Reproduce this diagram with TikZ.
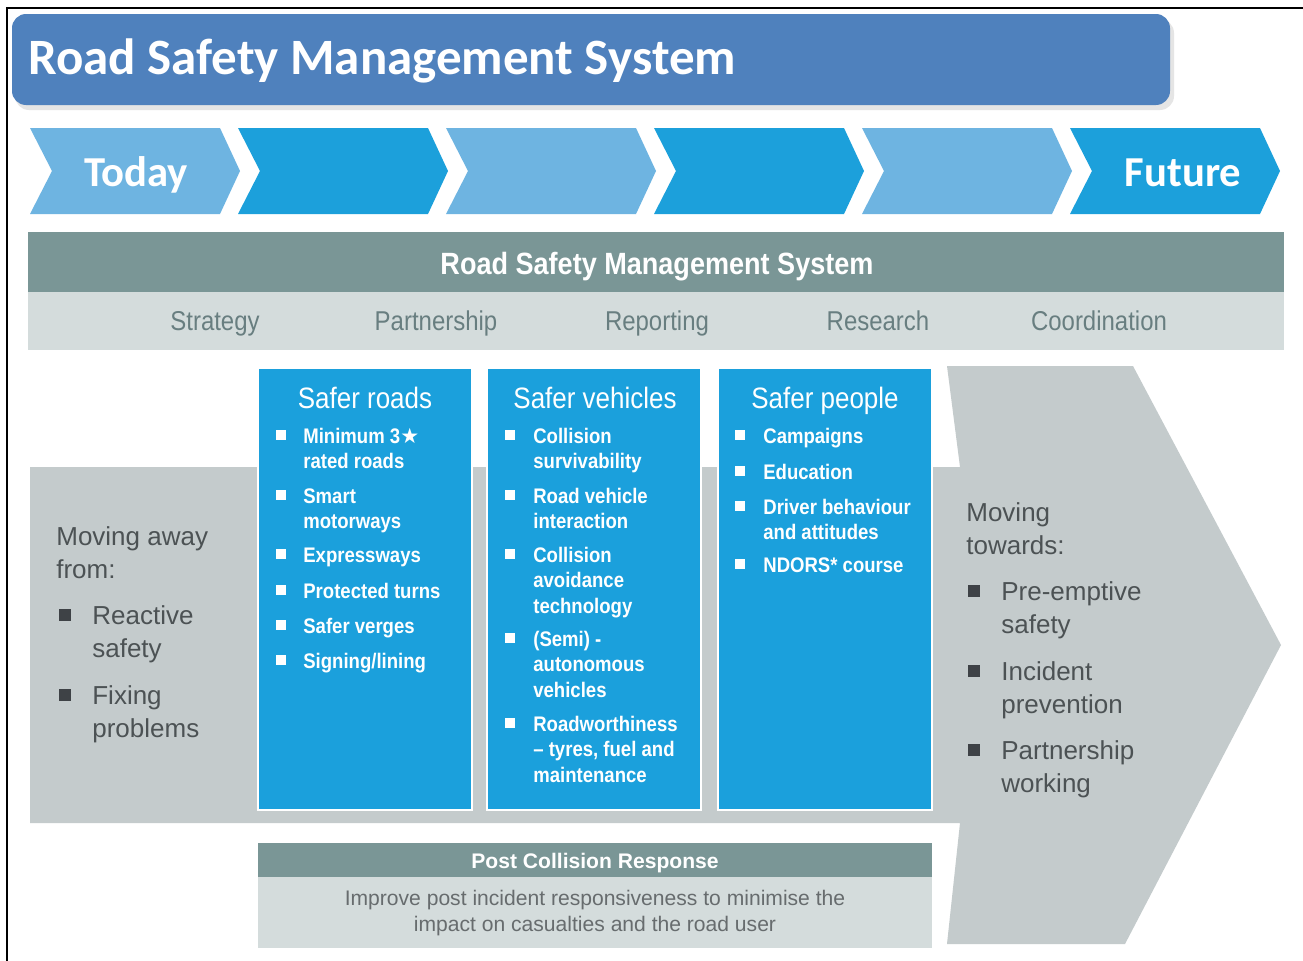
\documentclass[tikz,border=0pt]{standalone}
\usepackage{fontspec}
\setmainfont{Liberation Sans}
\newfontfamily\titlefont{Carlito}
\newfontfamily\narrowfont[FakeStretch=0.88]{Liberation Sans}
\newfontfamily\starfont{DejaVu Sans}
\usepackage{xcolor}
\definecolor{rstitle}{RGB}{79,129,189}
\definecolor{rslight}{RGB}{110,180,225}
\definecolor{rsdark}{RGB}{28,160,219}
\definecolor{rsbox}{RGB}{27,160,220}
\definecolor{rsteal}{RGB}{122,150,150}
\definecolor{rspale}{RGB}{212,220,220}
\definecolor{rsgrey}{RGB}{196,203,204}
\definecolor{rslabel}{RGB}{104,126,128}
\definecolor{rstext}{RGB}{76,82,84}
\definecolor{rsbullet}{RGB}{62,66,70}
\begin{document}
\begin{tikzpicture}[x=0.02cm, y=-0.02cm,
  chevtext/.style={anchor=base, text=white, font=\titlefont\bfseries\fontsize{24.3}{28}\selectfont},
  pillar/.style={anchor=base, text=rslabel, font=\narrowfont\fontsize{15.5}{18}\selectfont},
  boxhead/.style={anchor=base, text=white, font=\narrowfont\fontsize{16.8}{19}\selectfont},
  boxitem/.style={anchor=north west, inner sep=0, align=left, text=white, font=\narrowfont\bfseries\fontsize{12}{14.5}\selectfont},
  greytext/.style={anchor=north west, inner sep=0, align=left, text=rstext, font=\fontsize{14.8}{18.7}\selectfont}]
  \useasboundingbox[fill=white] (0,0) rectangle (1303,961);

  % Frame
  \draw[line width=1.6pt] (7,961) -- (7,8) -- (1303,8);

  % Title banner
  \fill[black!10, rounded corners=8pt] (15,19) rectangle (1174,110);
  \fill[rstitle, rounded corners=8pt] (12,14) rectangle (1170,105);
  \node[anchor=base west, inner sep=0, text=white, font=\titlefont\bfseries\fontsize{29}{34}\selectfont] (title) at (28,74) {Road Safety Management System};

  % Timeline chevrons
  \foreach \i/\c in {0/rslight,1/rsdark,2/rslight,3/rsdark,4/rslight,5/rsdark}
    \fill[\c] (30+208*\i,128) -- ++(190,0) -- ++(20,43) -- ++(-20,43) -- ++(-190,0) -- ++(22,-43) -- cycle;
  \node[chevtext] (today) at (136,186) {Today};
  \node[chevtext] (future) at (1183,186) {Future};

  % System bar
  \fill[rsteal] (28,232) rectangle (1284,292);
  \fill[rspale] (28,292) rectangle (1284,350);
  \node[anchor=base, text=white, font=\narrowfont\bfseries\fontsize{17.5}{20}\selectfont] (system) at (657,274) {Road Safety Management System};
  \foreach \lbl [count=\k from 0] in {Strategy,Partnership,Reporting,Research,Coordination}
    \node[pillar] (pillar\k) at (215+221*\k,330) {\lbl};

  % Grey band and arrow
  \fill[rsgrey] (30,467) -- (960,467) -- (947,366) -- (1133,366) -- (1281,645) -- (1125,944)
    -- (947,944) -- (960,823) -- (30,823) -- cycle;

  % Blue columns
  \foreach \x in {258,487,718}
    \filldraw[fill=rsbox, draw=white, line width=1.2pt] (\x,368) rectangle ++(214,442);

  % Safer roads
  \node[boxhead] (hdroads) at (365,408) {Safer roads};
  \node[boxitem] (road1) at (303,425) {\strut Minimum 3{\starfont ★}\\rated roads};
  \node[boxitem] (road2) at (303,485) {\strut Smart\\motorways};
  \node[boxitem] (road3) at (303,544) {\strut Expressways};
  \node[boxitem] (road4) at (303,580) {\strut Protected turns};
  \node[boxitem] (road5) at (303,615) {\strut Safer verges};
  \node[boxitem] (road6) at (303,650) {\strut Signing/lining};
  \foreach \y in {435,495,554,590,625,660}
    \fill[white] (276,\y-5) rectangle ++(10,10);

  % Safer vehicles
  \node[boxhead] (hdvehicles) at (595,408) {Safer vehicles};
  \node[boxitem] (veh1) at (533,425) {\strut Collision\\survivability};
  \node[boxitem] (veh2) at (533,485) {\strut Road vehicle\\interaction};
  \node[boxitem] (veh3) at (533,544) {\strut Collision\\avoidance\\technology};
  \node[boxitem] (veh4) at (533,628) {\strut (Semi) -\\autonomous\\vehicles};
  \node[boxitem] (veh5) at (533,713) {\strut Roadworthiness\\– tyres, fuel and\\maintenance};
  \foreach \y in {435,495,554,638,723}
    \fill[white] (505,\y-5) rectangle ++(10,10);

  % Safer people
  \node[boxhead] (hdpeople) at (825,408) {Safer people};
  \node[boxitem] (ppl1) at (763,425) {\strut Campaigns};
  \node[boxitem] (ppl2) at (763,461) {\strut Education};
  \node[boxitem] (ppl3) at (763,496) {\strut Driver behaviour\\and attitudes};
  \node[boxitem] (ppl4) at (763,554) {\strut NDORS* course};
  \foreach \y in {435,471,506,564}
    \fill[white] (735,\y-5) rectangle ++(10,10);

  % Moving away from
  \node[greytext] (awayhead) at (56,522) {\strut Moving away\\from:};
  \node[greytext] (away1) at (92,601) {\strut Reactive\\safety};
  \node[greytext] (away2) at (92,681) {\strut Fixing\\problems};
  \foreach \y in {615,695}
    \fill[rsbullet] (59,\y-6) rectangle ++(12,12);

  % Moving towards
  \node[greytext] (towardshead) at (966,498) {\strut Moving\\towards:};
  \node[greytext] (towards1) at (1001,577) {\strut Pre-emptive\\safety};
  \node[greytext] (towards2) at (1001,657) {\strut Incident\\prevention};
  \node[greytext] (towards3) at (1001,736) {\strut Partnership\\working};
  \foreach \y in {591,671,750}
    \fill[rsbullet] (968,\y-6) rectangle ++(12,12);

  % Post collision panel
  \fill[rsteal] (258,843) rectangle (932,877);
  \fill[rspale] (258,877) rectangle (932,948);
  \node[anchor=base, text=white, font=\bfseries\fontsize{12}{14}\selectfont] (pcrhead) at (595,868) {Post Collision Response};
  \node[anchor=north, inner sep=0, align=center, text=rstext!85, font=\fontsize{12}{14.7}\selectfont] (pcrbody) at (595,887)
    {\strut Improve post incident responsiveness to minimise the\\impact on casualties and the road user};
\end{tikzpicture}
\end{document}
